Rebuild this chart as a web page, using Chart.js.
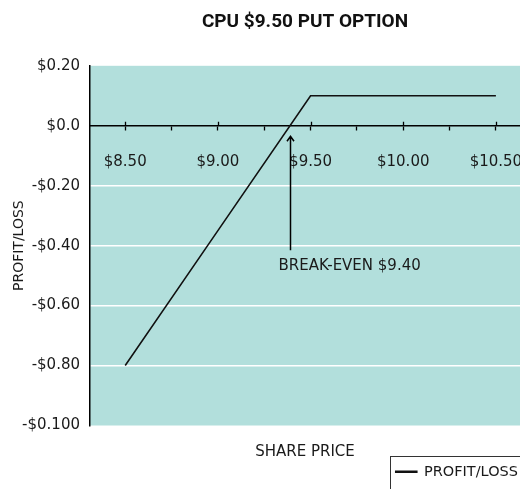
<!DOCTYPE html>
<html>
<head>
<meta charset="utf-8">
<script src="https://cdn.jsdelivr.net/npm/chart.js@4.4.1/dist/chart.umd.min.js"></script>
<style>
  html, body { margin: 0; padding: 0; background: #fff; }
</style>
</head>
<body>
<canvas id="chart" width="520" height="489"></canvas>
<script>
// values
const sharePrice = [8.5, 9.0, 9.5, 10.0, 10.5];
const profitLoss = [-0.8, -0.35, 0.1, 0.1, 0.1];

const xTickValues = [8.5, 8.75, 9.0, 9.25, 9.5, 9.75, 10.0, 10.25, 10.5];
const xTickLabels = ['$8.50', '', '$9.00', '', '$9.50', '', '$10.00', '', '$10.50'];
const yTickValues = [0.2, 0, -0.2, -0.4, -0.6, -0.8, -1.0];
const yTickLabels = ['$0.20', '$0.0', '-$0.20', '-$0.40', '-$0.60', '-$0.80', '-$0.100'];

// the arrow sits where the line crosses zero
const breakEven = 9.39;
const breakEvenLabel = 'BREAK-EVEN $9.40';
const arrowFrom = -0.415;
const arrowTo = -0.035;

const textFont = 'DejaVu Sans, Verdana, sans-serif';
const textColor = '#1a1a1a';

const plotBackground = {
    id: 'plotBackground',
    beforeDraw: function (chart) {
        const a = chart.chartArea;
        const ctx = chart.ctx;
        ctx.save();
        ctx.fillStyle = '#b2dfdc';
        ctx.fillRect(a.left, a.top, a.right - a.left, a.bottom - a.top);
        ctx.restore();
    }
};

// long ticks at the labelled prices also poke up above the zero line
const majorTicks = {
    id: 'majorTicks',
    afterDatasetsDraw: function (chart) {
        const x = chart.scales.x, y = chart.scales.y;
        const ctx = chart.ctx;
        const y0 = y.getPixelForValue(0);
        ctx.save();
        ctx.strokeStyle = '#000';
        ctx.lineWidth = 1.3;
        xTickValues.forEach(function (v, i) {
            if (!xTickLabels[i]) return;
            const px = Math.round(x.getPixelForValue(v)) + 0.5;
            ctx.beginPath();
            ctx.moveTo(px, y0 - 4);
            ctx.lineTo(px, y0);
            ctx.stroke();
        });
        ctx.restore();
    }
};

const breakEvenNote = {
    id: 'breakEvenNote',
    afterDatasetsDraw: function (chart) {
        const x = chart.scales.x, y = chart.scales.y;
        const ctx = chart.ctx;
        const px = Math.round(x.getPixelForValue(breakEven)) + 0.5;
        const yBottom = y.getPixelForValue(arrowFrom);
        const yTip = y.getPixelForValue(arrowTo);
        ctx.save();
        ctx.strokeStyle = '#000';
        ctx.lineWidth = 1.5;
        ctx.beginPath();
        ctx.moveTo(px, yBottom);
        ctx.lineTo(px, yTip);
        ctx.moveTo(px - 3.5, yTip + 5);
        ctx.lineTo(px, yTip);
        ctx.lineTo(px + 3.5, yTip + 5);
        ctx.stroke();
        ctx.fillStyle = textColor;
        ctx.font = '15px ' + textFont;
        ctx.textAlign = 'left';
        ctx.textBaseline = 'middle';
        ctx.fillText(breakEvenLabel, px - 12, yBottom + 16);
        ctx.restore();
    }
};

const legendBox = {
    id: 'legendBox',
    afterDraw: function (chart) {
        const hb = chart.legend.legendHitBoxes[0];
        if (!hb) return;
        const ctx = chart.ctx;
        ctx.save();
        ctx.strokeStyle = '#333';
        ctx.lineWidth = 1;
        ctx.strokeRect(Math.round(hb.left - 6) + 0.5, Math.round(hb.top + hb.height / 2 - 16) + 0.5, 300, 100);
        ctx.restore();
    }
};

const data = {
    datasets: [
        {
            label: 'PROFIT/LOSS',
            data: sharePrice.map(function (p, i) { return { x: p, y: profitLoss[i] }; }),
            borderColor: '#111',
            backgroundColor: '#111',
            borderWidth: 1.6,
            pointRadius: 0,
            tension: 0
        }
    ]
};

new Chart(
    document.getElementById('chart'),
    {
        type: 'line',
        data: data,
        plugins: [plotBackground, majorTicks, breakEvenNote, legendBox],
        options: {
            responsive: false,
            animation: false,
            devicePixelRatio: 1,
            layout: {
                padding: 0
            },
            scales: {
                x: {
                    type: 'linear',
                    position: { y: 0 },
                    min: 8.31,
                    max: 10.63,
                    afterBuildTicks: function (scale) {
                        scale.ticks = xTickValues.map(function (v) { return { value: v }; });
                    },
                    afterFit: function (scale) {
                        // let the plot run to the right edge like the original
                        scale.paddingLeft = 0;
                        scale.paddingRight = 0;
                    },
                    ticks: {
                        autoSkip: false,
                        maxRotation: 0,
                        padding: 23,
                        color: textColor,
                        font: { family: textFont, size: 15 },
                        callback: function (value, index) {
                            return xTickLabels[index];
                        }
                    },
                    grid: {
                        drawOnChartArea: false,
                        drawTicks: true,
                        tickLength: 4,
                        tickColor: '#000',
                        tickWidth: 1.3
                    },
                    border: {
                        display: true,
                        color: '#000',
                        width: 1.5
                    }
                },
                y: {
                    type: 'linear',
                    position: 'left',
                    min: -1.0,
                    max: 0.2,
                    afterBuildTicks: function (scale) {
                        scale.ticks = yTickValues.map(function (v) { return { value: v }; });
                    },
                    afterFit: function (scale) {
                        scale.width = 90;
                    },
                    ticks: {
                        padding: 10,
                        color: textColor,
                        font: { family: textFont, size: 15 },
                        callback: function (value, index) {
                            return yTickLabels[index];
                        }
                    },
                    grid: {
                        drawTicks: false,
                        lineWidth: 1.5,
                        color: function (context) {
                            const v = context.tick ? context.tick.value : 0;
                            return (v < -0.01 && v > -0.99) ? '#ffffff' : 'rgba(0,0,0,0)';
                        }
                    },
                    border: {
                        display: true,
                        color: '#000',
                        width: 1.5
                    },
                    title: {
                        display: true,
                        text: 'PROFIT/LOSS',
                        color: textColor,
                        font: { family: textFont, size: 14 },
                        padding: { top: 11, bottom: 0 }
                    }
                }
            },
            plugins: {
                tooltip: {
                    enabled: false
                },
                title: {
                    display: true,
                    text: 'CPU $9.50 PUT OPTION',
                    fullSize: false,
                    color: '#111',
                    font: { family: "Roboto, 'DejaVu Sans', sans-serif", size: 19, weight: 'bold' },
                    padding: { top: 11, bottom: 32 }
                },
                subtitle: {
                    display: true,
                    position: 'bottom',
                    text: 'SHARE PRICE',
                    fullSize: false,
                    weight: 500,
                    color: textColor,
                    font: { family: textFont, size: 15 },
                    padding: { top: 18, bottom: 1 }
                },
                legend: {
                    position: 'bottom',
                    align: 'end',
                    weight: 3000,
                    labels: {
                        boxWidth: 21,
                        boxHeight: 1,
                        padding: 2,
                        color: textColor,
                        font: { family: textFont, size: 14.5 }
                    }
                }
            }
        }
    }
);
</script>
</body>
</html>
